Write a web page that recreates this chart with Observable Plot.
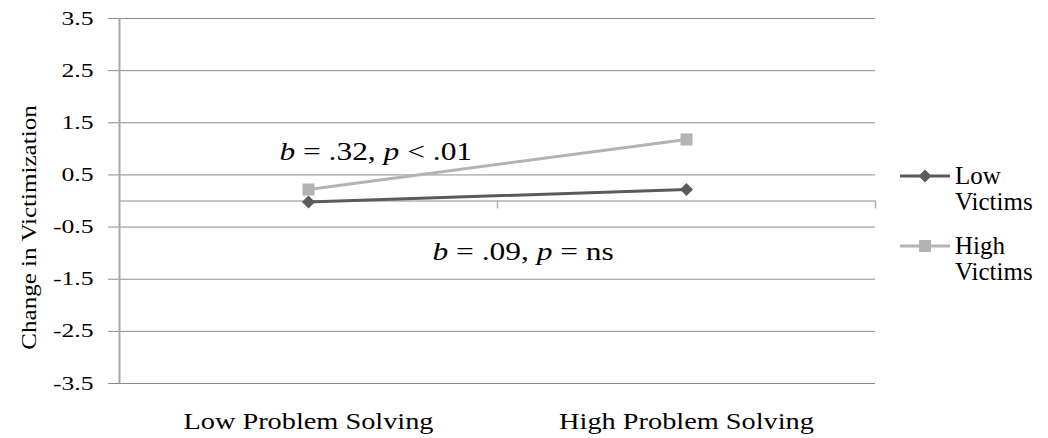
<!DOCTYPE html>
<html><head><meta charset="utf-8">
<script src="https://cdn.jsdelivr.net/npm/d3@7"></script>
<script src="https://cdn.jsdelivr.net/npm/@observablehq/plot@0.6"></script>
<style>
body{margin:0;background:#fff;}
#wrap{position:relative;width:1048px;height:438px;font-family:"Liberation Serif","Times New Roman",serif;background:#fff;}
#wrap svg.chart{position:absolute;left:0;top:0;}
#wrap svg.chart text, #wrap svg.chart tspan{font-family:"Liberation Serif","Times New Roman",serif !important;}
.leg{position:absolute;left:955px;font-size:25px;line-height:26px;color:#000;white-space:nowrap;font-family:"Liberation Serif","Times New Roman",serif;}
#wrap svg.sym{position:absolute;left:900px;}
</style></head><body><div id="wrap"></div>
<script>
// ---- data ----
const categories = ["Low Problem Solving", "High Problem Solving"];
const seriesNames = ["Low Victims", "High Victims"];
const lowVictims = [-0.02, 0.22];
const highVictims = [0.22, 1.18];
const yTicks = [-3.5, -2.5, -1.5, -0.5, 0.5, 1.5, 2.5, 3.5];
const boundaries = [0, 1, 2];
const annotationLabels = ["b = .32, p < .01", "b = .09, p = ns"];
const yTitle = "Change in Victimization";

// ---- styling / layout ----
const FONT = "Liberation Serif";
const colors = {"Low Victims": "#5b5b5b", "High Victims": "#b3b3b3"};
const symbols = {"Low Victims": "diamond2", "High Victims": "square"};
const radii = {"Low Victims": 5.9, "High Victims": 6.8};
const annotationAnchors = [[0.423, 0.78], [0.828, -1.14]];

const seriesValues = {"Low Victims": lowVictims, "High Victims": highVictims};
const rows = [];
seriesNames.forEach(s => categories.forEach((c, ci) =>
  rows.push({series: s, category: c, x: ci + 0.5, value: seriesValues[s][ci]})));
const annotations = annotationLabels.map((label, i) => ({label, x: annotationAnchors[i][0], y: annotationAnchors[i][1]}));

const marks = [
  Plot.ruleY(yTicks, {stroke: "#8c8c8c", strokeWidth: 1, insetLeft: -11}),
  Plot.ruleY([0], {stroke: "#8a8a8a", strokeWidth: 1.2}),
  Plot.ruleX(boundaries.slice(1), {y1: 0, y2: 0, insetBottom: -8, stroke: "#b0b0b0", strokeWidth: 1.5}),
  Plot.ruleX([boundaries[0]], {stroke: "#a8a8a8", strokeWidth: 2}),
  Plot.axisY({ticks: yTicks, tickSize: 0, tickPadding: 26, tickFormat: d => d.toFixed(1), fontSize: 19, fontFamily: FONT, fill: "#000", label: null}),
  Plot.axisX({ticks: categories.map((c, i) => i + 0.5), tickSize: 0, tickPadding: 28, tickFormat: d => categories[Math.floor(d)], fontSize: 24, fontFamily: FONT, fill: "#000", label: null}),
];
seriesNames.forEach(s => {
  const d = rows.filter(r => r.series === s);
  marks.push(Plot.line(d, {x: "x", y: "value", stroke: colors[s], strokeWidth: 3}));
  marks.push(Plot.dot(d, {x: "x", y: "value", symbol: symbols[s], r: radii[s], fill: colors[s], stroke: "none"}));
});
// text marks: [0] annotations, [1] y-axis title
marks.push(Plot.text(annotations, {x: "x", y: "y", text: "label", textAnchor: "start", lineAnchor: "bottom", fontSize: 26, fontFamily: FONT, fill: "#000"}));
marks.push(Plot.text([yTitle], {text: d => d, frameAnchor: "left", textAnchor: "middle", lineAnchor: "middle", rotate: -90, dx: -91, dy: 26.5, fontSize: 22, fontFamily: FONT, fill: "#000"}));

const chart = Plot.plot({
  width: 1048, height: 438,
  marginTop: 18, marginRight: 173, marginBottom: 55, marginLeft: 119,
  style: {fontFamily: FONT, background: "#fff", color: "#000", overflow: "visible"},
  x: {domain: [0, 2]},
  y: {domain: [-3.5, 3.5]},
  marks
});
chart.classList.add("chart");

function stretchEls(els, s) {
  els.forEach(t => {
    const tr = t.getAttribute("transform") || "";
    t.setAttribute("transform", tr + ` scale(${s},1)`);
  });
}
stretchEls(chart.querySelectorAll('g[aria-label="y-axis tick label"] text'), 1.35);
stretchEls(chart.querySelectorAll('g[aria-label="x-axis tick label"] text'), 1.18);
const textGroups = chart.querySelectorAll('g[aria-label="text"]');
const annGroup = textGroups[0], titleGroup = textGroups[1];
if (annGroup) stretchEls(annGroup.querySelectorAll("text"), 1.21);
if (titleGroup) stretchEls(titleGroup.querySelectorAll("text"), 1.14);

const NS = "http://www.w3.org/2000/svg";
if (annGroup) annGroup.querySelectorAll("text").forEach(t => {
  const s = t.textContent;
  while (t.firstChild) t.removeChild(t.firstChild);
  s.split(/(\bb\b|\bp\b)/).forEach(part => {
    if (!part) return;
    const ts = document.createElementNS(NS, "tspan");
    if (part === "b" || part === "p") ts.setAttribute("font-style", "italic");
    ts.textContent = part;
    t.appendChild(ts);
  });
});

const wrap = document.getElementById("wrap");
wrap.appendChild(chart);

// legend (HTML overlay to the right of the plot)
const legendTops = [163, 233];
seriesNames.forEach((s, i) => {
  const top = legendTops[i];
  const sym = document.createElementNS(NS, "svg");
  sym.setAttribute("class", "sym");
  sym.setAttribute("width", "52"); sym.setAttribute("height", "20");
  sym.style.top = (top + 3) + "px";
  const line = document.createElementNS(NS, "line");
  line.setAttribute("x1", 0); line.setAttribute("x2", 50);
  line.setAttribute("y1", 10); line.setAttribute("y2", 10);
  line.setAttribute("stroke", colors[s]); line.setAttribute("stroke-width", 3);
  sym.appendChild(line);
  const p = document.createElementNS(NS, "path");
  p.setAttribute("d", symbols[s] === "square" ? "M19,4H31V16H19Z" : "M25,3.5L31.5,10L25,16.5L18.5,10Z");
  p.setAttribute("fill", colors[s]);
  sym.appendChild(p);
  wrap.appendChild(sym);
  const lab = document.createElement("div");
  lab.className = "leg";
  lab.style.top = top + "px";
  lab.innerHTML = s.split(" ").join("<br>");
  wrap.appendChild(lab);
});
</script></body></html>
